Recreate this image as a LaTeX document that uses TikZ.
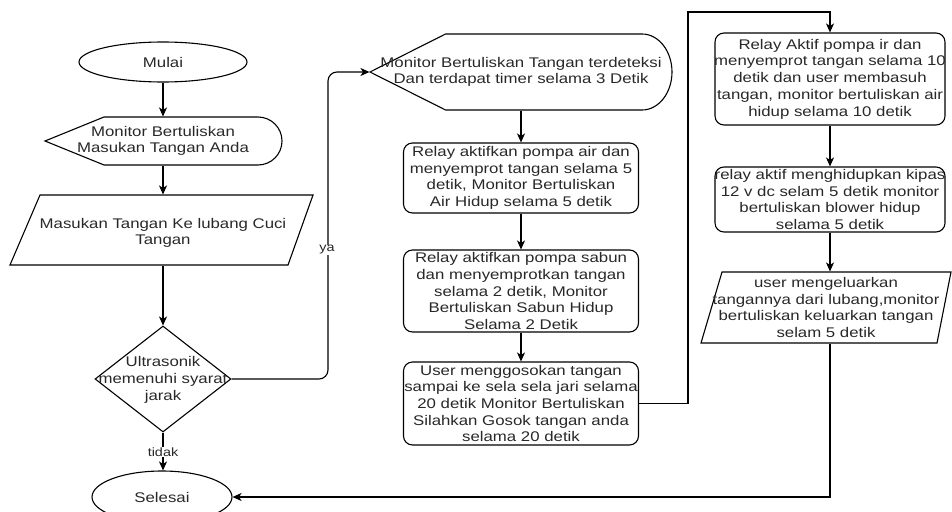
\documentclass[tikz,border=0pt]{standalone}
\usepackage{fontspec}
\setmainfont{Liberation Sans}[FakeStretch=1.2]
\usetikzlibrary{shapes.geometric,arrows.meta,calc}
\definecolor{txtc}{RGB}{40,40,40}
\begin{document}
\begin{tikzpicture}[x=1pt,y=-1pt,
  every path/.style={line width=1.1pt},
  conn/.style={draw, -{Stealth[length=9pt,width=8pt,inset=2.5pt]}},
  plain/.style={draw},
  txt/.style={text=txtc, align=center, inner sep=0pt,
    font=\fontsize{14}{16.7}\selectfont},
  term/.style={txt, draw, ellipse, inner sep=0pt},
  proc/.style={txt, draw, rounded corners=9pt, inner ysep=0pt, inner xsep=-15pt},
  lbl/.style={text=txtc, fill=white, inner sep=1pt, font=\fontsize{12}{14}\selectfont},
]
\useasboundingbox (0,0) rectangle (952,511);

% left column
\node[term, minimum width=168pt, minimum height=40pt] (mulai) at (163,62) {Mulai};

\draw (45,141) -- (104,117) -- (258,117)
  arc[start angle=-90,end angle=90,x radius=24,y radius=24] -- (104,165) -- cycle;
\node[txt, minimum width=237pt, minimum height=48pt] (d1) at (163,141)
  {Monitor Bertuliskan\\Masukan Tangan Anda};

\draw (40,195) -- (313,195) -- (288,265) -- (10,265) -- cycle;
\node[txt, minimum width=300pt, minimum height=70pt] (p1) at (163,230) {};
\node[txt] (p1t) at (163,233) {Masukan Tangan Ke lubang Cuci\\Tangan};

\node[draw, diamond, minimum width=136pt, minimum height=106pt, inner sep=0pt] (dec) at (163,379) {};
\node[txt] (dect) at (163,380) {Ultrasonik\\memenuhi syarat\\jarak};

\node[term, minimum width=140pt, minimum height=52pt] (sel) at (162,497) {Selesai};

% middle column
\draw (370,72) -- (445.5,34) -- (642,34)
  arc[start angle=-90,end angle=90,x radius=30,y radius=38] -- (445.5,110) -- cycle;
\node[txt, minimum width=302pt, minimum height=76pt] (d2) at (521,72)
  {Monitor Bertuliskan Tangan terdeteksi\\Dan terdapat timer selama 3 Detik};

\node[proc, text width=265pt, minimum height=70pt] (b1) at (521,178)
  {Relay aktifkan pompa air dan\\menyemprot tangan selama 5\\detik, Monitor Bertuliskan\\Air Hidup selama 5 detik};
\node[proc, text width=265pt, minimum height=82pt] (b2) at (521,291)
  {Relay aktifkan pompa sabun\\dan menyemprotkan tangan\\selama 2 detik, Monitor\\Bertuliskan Sabun Hidup\\Selama 2 Detik};
\node[proc, text width=265pt, minimum height=83pt] (b3) at (521,403.5)
  {User menggosokan tangan\\sampai ke sela sela jari selama\\20 detik Monitor Bertuliskan\\Silahkan Gosok tangan anda\\selama 20 detik};

% right column
\node[proc, text width=260pt, minimum height=92pt] (b4) at (830,79)
  {Relay Aktif pompa ir dan\\menyemprot tangan selama 10\\detik dan user membasuh\\tangan, monitor bertuliskan air\\hidup selama 10 detik};
\node[proc, text width=260pt, minimum height=65pt] (b5) at (830,199.5)
  {relay aktif menghidupkan kipas\\12 v dc selam 5 detik monitor\\bertuliskan blower hidup\\selama 5 detik};

\draw (722,272) -- (951,272) -- (937,343) -- (701,343) -- cycle;
\node[txt, minimum width=250pt, minimum height=71pt] (p2) at (826,307.5)
  {user mengeluarkan\\tangannya dari lubang,monitor\\bertuliskan keluarkan tangan\\selam 5 detik};

% connectors
\path[conn] (mulai.south) -- (d1.north);
\path[conn] (d1.south) -- (p1.north);
\path[conn] (p1.south) -- (dec.north);
\path[conn] (dec.south) -- (dec.south |- sel.north);
\node[lbl] (tidak) at (163,452) {tidak};
\coordinate (ya1) at (328,379);
\coordinate (ya2) at (328,72);
\path[conn, rounded corners=9pt] (dec.east) -- (ya1) -- (ya2) -- (d2.west);
\node[lbl] (ya) at (327,250) {ya};

\path[conn] (d2.south) -- (b1.north);
\path[conn] (b1.south) -- (b2.north);
\path[conn] (b2.south) -- (b3.north);
\coordinate (c1) at (688,403.5);
\coordinate (c2) at (688,12);
\coordinate (c3) at (830,12);
\path[conn] (b3.east) -- (c1) -- (c2) -- (c3) -- (b4.north);
\path[conn] (b4.south) -- (b5.north);
\path[conn] (b5.south) -- (b5.south |- p2.north);
\path[conn] (b5.south |- p2.south) |- (sel.east);
\end{tikzpicture}
\end{document}
